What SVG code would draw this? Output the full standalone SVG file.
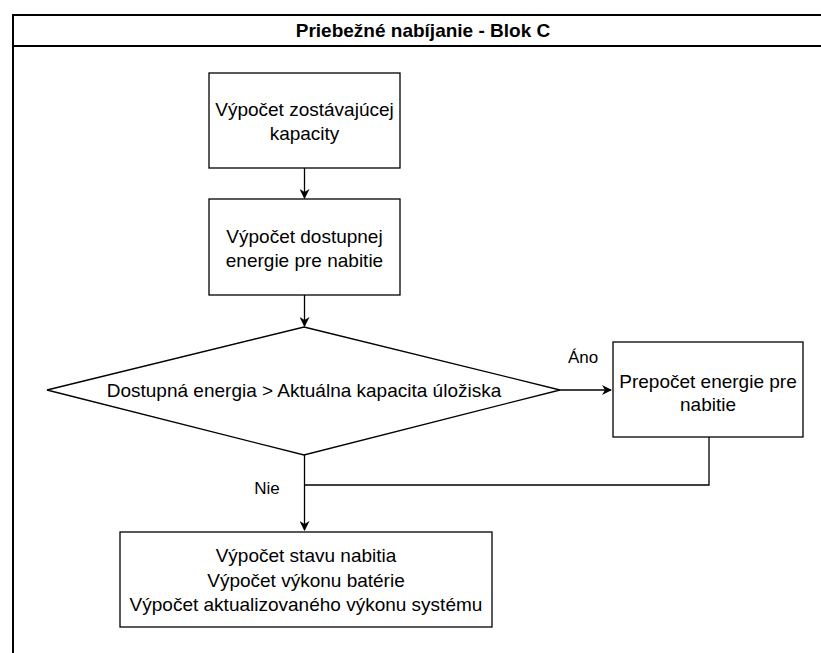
<svg xmlns="http://www.w3.org/2000/svg" width="821" height="653" viewBox="0 0 821 653">
<defs>
<marker id="ah" markerWidth="10" markerHeight="10" refX="9" refY="5" orient="auto" markerUnits="userSpaceOnUse">
<path d="M0,0 L10,5 L0,10 L3,5 Z" fill="#000"/>
</marker>
<style>
.box{fill:#fff;stroke:#000;stroke-width:1.3}
.t{font-family:"Liberation Sans",Arial,sans-serif;font-size:19px;fill:#000;text-anchor:middle}
.lbl{font-family:"Liberation Sans",Arial,sans-serif;font-size:17px;fill:#000;text-anchor:middle}
.c{fill:none;stroke:#000;stroke-width:1.3}
</style>
</defs>
<rect width="821" height="653" fill="#fff"/>
<g id="frame">
<rect x="13" y="15" width="820" height="650" fill="none" stroke="#000" stroke-width="2"/>
<line x1="13" y1="46" x2="821" y2="46" stroke="#000" stroke-width="2"/>
<text x="423" y="37" class="t" style="font-weight:bold">Priebežné nabíjanie - Blok C</text>
</g>
<g id="connectors">
<path class="c" d="M304.5,168 V198" marker-end="url(#ah)"/>
<path class="c" d="M304.5,295 V326" marker-end="url(#ah)"/>
<path class="c" d="M560,390 H611" marker-end="url(#ah)"/>
<path class="c" d="M304.5,455 V530" marker-end="url(#ah)"/>
<path class="c" d="M709,437 V485 H304.5"/>
<text x="583" y="363" class="lbl">Áno</text>
<text x="267" y="494" class="lbl">Nie</text>
</g>
<g id="n1">
<rect class="box" x="209" y="73" width="191" height="95"/>
<text class="t" x="304.5" y="116">Výpočet zostávajúcej</text>
<text class="t" x="304.5" y="140">kapacity</text>
</g>
<g id="n2">
<rect class="box" x="209" y="199" width="191" height="96"/>
<text class="t" x="304.5" y="243">Výpočet dostupnej</text>
<text class="t" x="304.5" y="267">energie pre nabitie</text>
</g>
<g id="n3">
<polygon class="box" points="304,327 560,390 304,455 47,390"/>
<text class="t" x="304" y="397">Dostupná energia &gt; Aktuálna kapacita úložiska</text>
</g>
<g id="n4">
<rect class="box" x="613" y="342" width="190" height="95"/>
<text class="t" x="708" y="388">Prepočet energie pre</text>
<text class="t" x="708" y="411">nabitie</text>
</g>
<g id="n5">
<rect class="box" x="120" y="532" width="372" height="95"/>
<text class="t" x="306" y="562">Výpočet stavu nabitia</text>
<text class="t" x="306" y="587">Výpočet výkonu batérie</text>
<text class="t" x="306" y="611">Výpočet aktualizovaného výkonu systému</text>
</g>
</svg>
